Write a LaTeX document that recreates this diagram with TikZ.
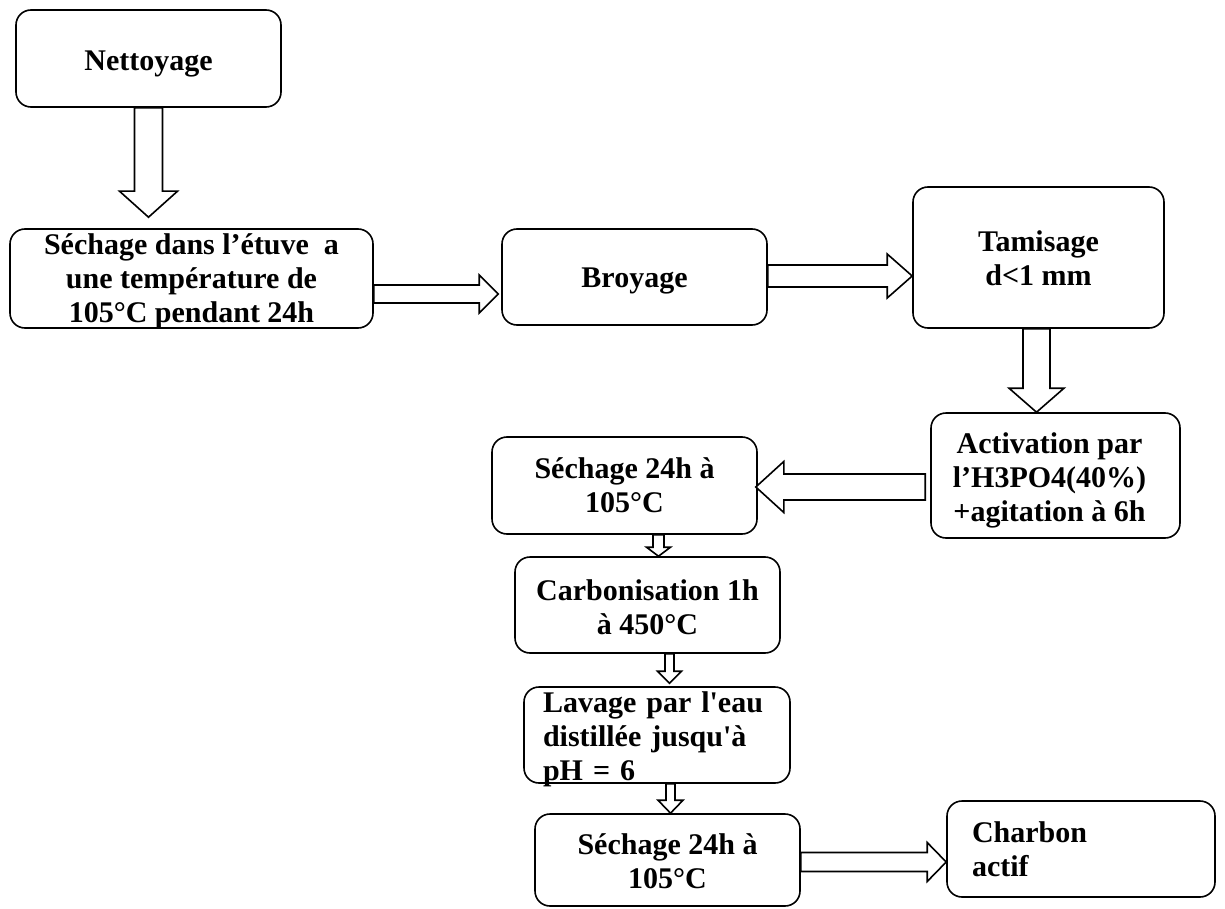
\documentclass[tikz,border=0pt]{standalone}
\usepackage{fontspec}
\setmainfont{Liberation Serif}[Ligatures=TeXOff]
\usetikzlibrary{calc}
\tikzset{
  box/.style={draw, line width=1.6pt, rounded corners=15pt, fill=white, inner sep=0pt},
  txt/.style={inner sep=0pt, font=\bfseries\fontsize{30}{34}\selectfont, align=center},
  blk/.style={draw, line width=1.6pt, line join=miter, fill=white},
}
\newcommand\blkdown[5]{\draw[blk] let \p1=#1, \p2=#2 in
  (\x1-#3,\y1) -- (\x1-#3,\y2+#5) -- (\x1-#4,\y2+#5) -- (\x1,\y2) -- (\x1+#4,\y2+#5) -- (\x1+#3,\y2+#5) -- (\x1+#3,\y1) -- cycle;}
\newcommand\blkright[5]{\draw[blk] let \p1=#1, \p2=#2 in
  (\x1,\y1+#3) -- (\x2-#5,\y1+#3) -- (\x2-#5,\y1+#4) -- (\x2,\y1) -- (\x2-#5,\y1-#4) -- (\x2-#5,\y1-#3) -- (\x1,\y1-#3) -- cycle;}
\newcommand\blkleft[5]{\draw[blk] let \p1=#1, \p2=#2 in
  (\x1,\y1+#3) -- (\x2+#5,\y1+#3) -- (\x2+#5,\y1+#4) -- (\x2,\y1) -- (\x2+#5,\y1-#4) -- (\x2+#5,\y1-#3) -- (\x1,\y1-#3) -- cycle;}
\begin{document}
\begin{tikzpicture}[x=1pt,y=1pt]
\useasboundingbox (0,0) rectangle (1225,-909);
% boxes
\node[box, minimum width=265, minimum height=97] (b1) at (148.5,-58.5) {};
\node[box, minimum width=363, minimum height=99] (b2) at (191.5,-278.5) {};
\node[box, minimum width=265, minimum height=96] (b3) at (634.5,-277) {};
\node[box, minimum width=251, minimum height=141] (b4) at (1038.5,-257.5) {};
\node[box, minimum width=249, minimum height=125] (b5) at (1055.5,-475.5) {};
\node[box, minimum width=265, minimum height=97] (b6) at (624.5,-485.5) {};
\node[box, minimum width=265, minimum height=96] (b7) at (647.5,-605) {};
\node[box, minimum width=266, minimum height=96] (b8) at (657,-735) {};
\node[box, minimum width=265, minimum height=92] (b9) at (667.5,-860) {};
\node[box, minimum width=268, minimum height=96] (b10) at (1081,-849) {};
% texts
\node[txt] (t1) at ([yshift=-5pt]b1.center) {Nettoyage};
\node[txt] (t2) at ([yshift=-3pt]b2.center) {Séchage dans l’étuve\ \ a\\une température de\\105°C pendant 24h};
\node[txt] (t3) at ([yshift=-4pt]b3.center) {Broyage};
\node[txt] (t4) at ([yshift=-1pt]b4.center) {Tamisage\\d<1 mm};
\node[txt] (t5) at ([shift={(-6pt,-4.5pt)}]b5.center) {Activation par\\l’H3PO4(40\%)\\+agitation à 6h};
\node[txt] (t6) at (b6.center) {Séchage 24h à\\105°C};
\node[txt] (t7) at ([yshift=-2pt]b7.center) {Carbonisation 1h\\à 450°C};
\node[txt, text width=228, align=left] (t8) at ([yshift=-4pt]b8.center) {Lavage par l'eau\\distillée jusqu'à\\pH = 6};
\node[txt] (t9) at ([yshift=-1.5pt]b9.center) {Séchage 24h à\\105°C};
\node[txt, text width=218, align=left] (t10) at (b10.center) {Charbon\\actif};
% block arrows
\blkdown{(b1.south)}{($(b2.north)+(0,11)$)}{14pt}{29pt}{26pt}
\blkright{($(b2.east)+(0,-15.5)$)}{($(b3.west)+(-3,0)$)}{9pt}{19pt}{19pt}
\blkright{($(b3.east)+(0,1)$)}{(b4.west)}{11pt}{22pt}{25pt}
\blkdown{($(b4.south)+(-2,0)$)}{(b5.north)}{13.5pt}{27.5pt}{24pt}
\blkleft{($(b5.west)+(-5,-11.5)$)}{($(b6.east)+(-2,0)$)}{13pt}{25.5pt}{28pt}
\blkdown{($(b6.south)+(34,0)$)}{(b7.north)}{5.5pt}{12pt}{9pt}
\blkdown{($(b7.south)+(22,0)$)}{($(b8.north)+(0,3)$)}{4.5pt}{12pt}{12pt}
\blkdown{($(b8.south)+(13.5,0)$)}{(b9.north)}{4.5pt}{12.5pt}{13pt}
\blkright{($(b9.east)+(0,-2)$)}{(b10.west)}{9.5pt}{19.5pt}{19pt}
\end{tikzpicture}
\end{document}
